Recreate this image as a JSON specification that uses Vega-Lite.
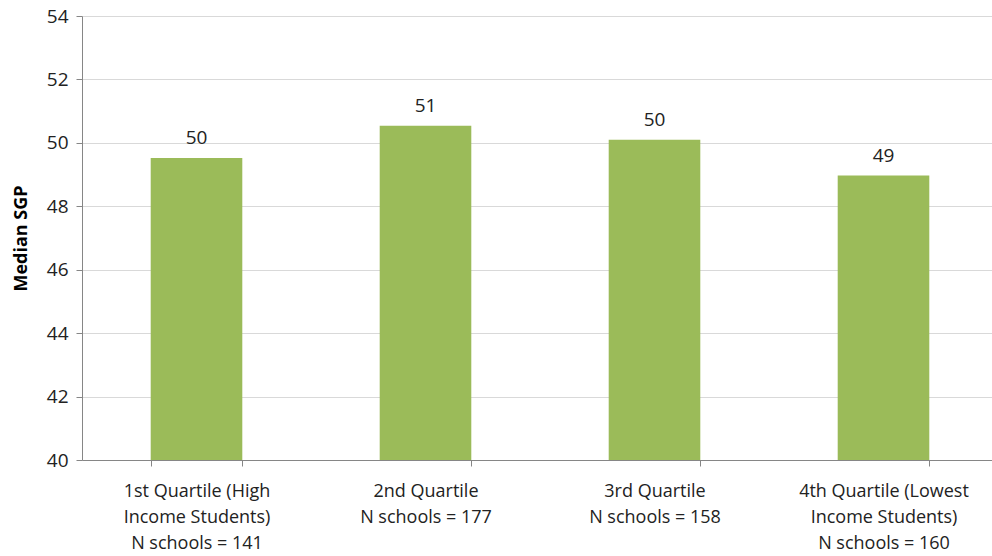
{
  "$schema": "https://vega.github.io/schema/vega-lite/v6.json",
  "width": 916,
  "height": 444,
  "autosize": {"type": "none"},
  "padding": {"left": 82, "top": 16, "right": 0, "bottom": 96},
  "background": "white",
  "config": {"view": {"stroke": null}, "font": "Open Sans"},
  "data": {
    "values": [
      {"group": "1st Quartile (High|Income Students)|N schools = 141", "order": 1, "sgp": 49.52, "label": "50"},
      {"group": "2nd Quartile|N schools = 177", "order": 2, "sgp": 50.54, "label": "51"},
      {"group": "3rd Quartile|N schools = 158", "order": 3, "sgp": 50.1, "label": "50"},
      {"group": "4th Quartile (Lowest|Income Students)|N schools = 160", "order": 4, "sgp": 48.97, "label": "49"}
    ]
  },
  "encoding": {
    "x": {
      "field": "group",
      "type": "nominal",
      "sort": {"field": "order"},
      "scale": {"paddingInner": 0.6, "paddingOuter": 0.3},
      "axis": {
        "title": null,
        "labelAngle": 0,
        "labelExpr": "split(datum.label, '|')",
        "labelFontSize": 18,
        "labelColor": "#222222",
        "labelLineHeight": 26,
        "labelPadding": 16,
        "tickBand": "extent",
        "tickColor": "#868686",
        "tickSize": 6,
        "domainColor": "#868686"
      }
    },
    "y": {
      "field": "sgp",
      "type": "quantitative",
      "scale": {"domain": [40, 54], "nice": false, "zero": false},
      "axis": {
        "title": "Median SGP",
        "titleFontSize": 18,
        "titleFontWeight": "bold",
        "titleColor": "#000000",
        "titlePadding": 16,
        "values": [40, 42, 44, 46, 48, 50, 52, 54],
        "labelFontSize": 19,
        "labelColor": "#222222",
        "labelPadding": 8,
        "tickColor": "#868686",
        "tickSize": 6,
        "domainColor": "#868686",
        "gridColor": "#d9d9d9",
        "gridWidth": 1.2
      }
    }
  },
  "layer": [
    {"mark": {"type": "bar", "color": "#9BBB59", "clip": true}},
    {
      "mark": {"type": "text", "baseline": "bottom", "dy": -10, "fontSize": 19, "color": "#222222"},
      "encoding": {"text": {"field": "label"}}
    }
  ]
}
